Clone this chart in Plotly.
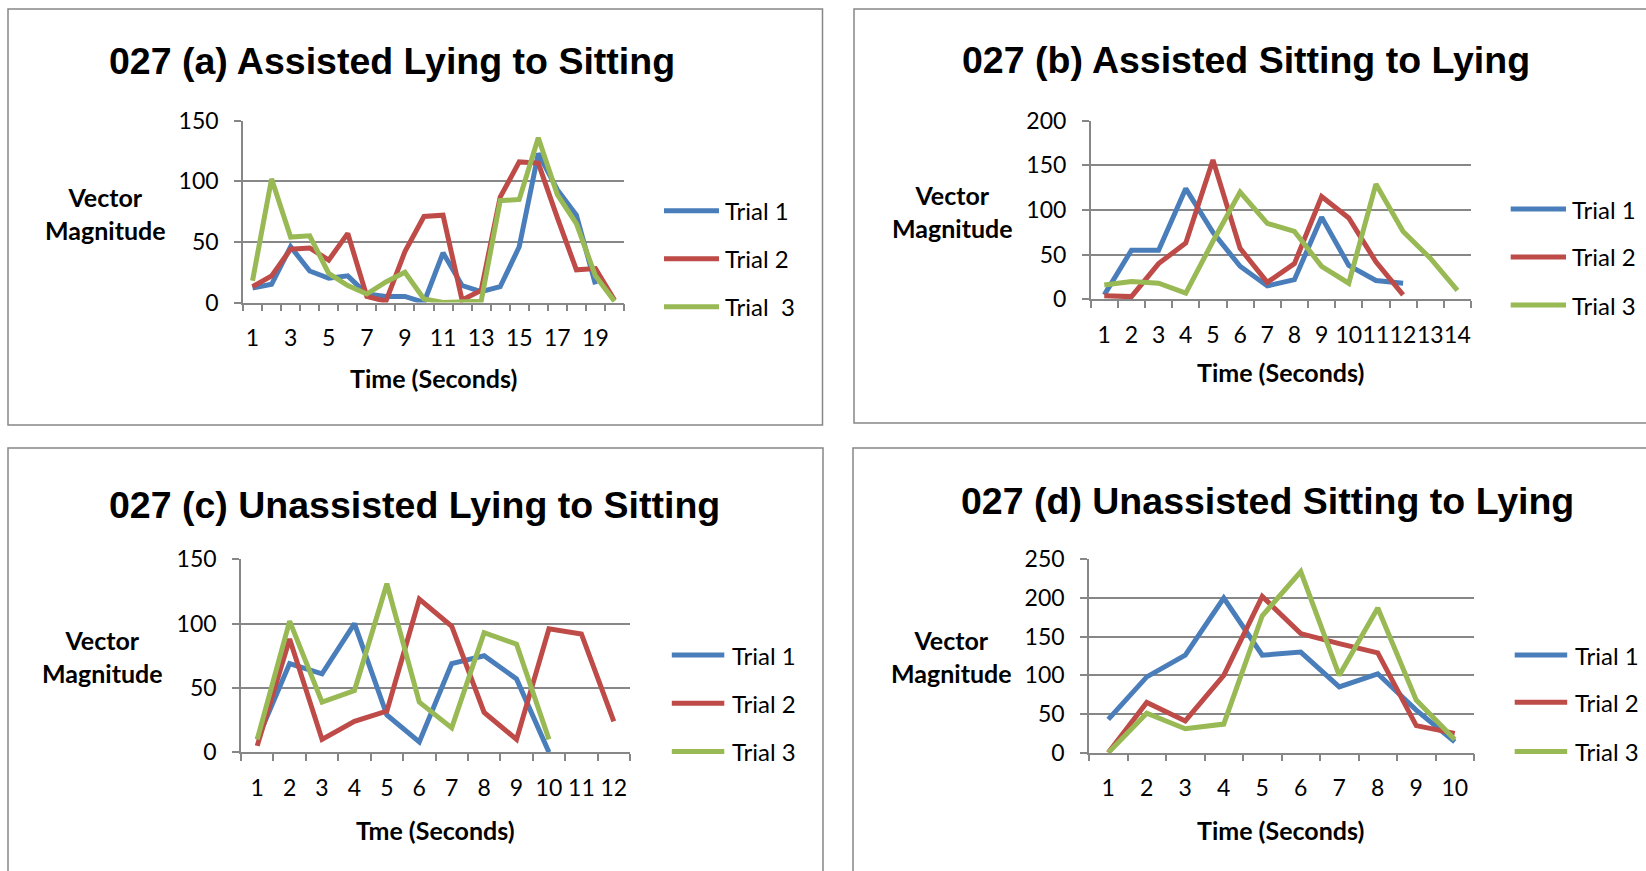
import plotly.graph_objects as go

W, H = 1646, 871

# ---------------- data ----------------
titles = ["027 (a) Assisted Lying to Sitting",
          "027 (b) Assisted Sitting to Lying",
          "027 (c) Unassisted Lying to Sitting",
          "027 (d) Unassisted Sitting to Lying"]
x_titles = ["Time (Seconds)", "Time (Seconds)", "Tme (Seconds)", "Time (Seconds)"]
y_title = "Vector<br>Magnitude"
legend_names_a = ["Trial 1", "Trial 2", "Trial\u00a0\u00a03"]
legend_names = ["Trial 1", "Trial 2", "Trial 3"]

time_a = list(range(1, 21))
a_trial1 = [12, 15, 46, 26, 20, 22, 7, 5, 5, 0, 41, 14, 9, 13, 46, 123, 93, 72, 15]
a_trial2 = [13, 22, 44, 45, 35, 57, 5, 1, 42, 71, 72, 2, 10, 87, 116, 115, 70, 27, 28, 2]
a_trial3 = [18, 102, 54, 55, 24, 14, 7, 17, 25, 3, 0, 0, 1, 84, 85, 136, 89, 65, 22, 1]
a_xticks = [1, 3, 5, 7, 9, 11, 13, 15, 17, 19]
a_yticks = [0, 50, 100, 150]

time_b = list(range(1, 15))
b_trial1 = [5, 55, 55, 124, 75, 37, 15, 22, 92, 38, 21, 18]
b_trial2 = [4, 3, 40, 63, 156, 57, 19, 40, 115, 91, 42, 5]
b_trial3 = [16, 20, 18, 7, 65, 120, 85, 76, 37, 18, 129, 76, 46, 10]
b_xticks = list(range(1, 15))
b_yticks = [0, 50, 100, 150, 200]

time_c = list(range(1, 13))
c_trial1 = [10, 69, 61, 100, 29, 8, 69, 75, 57, 0]
c_trial2 = [5, 88, 10, 24, 32, 119, 98, 31, 10, 96, 92, 24]
c_trial3 = [10, 102, 39, 48, 131, 39, 19, 93, 84, 10]
c_xticks = list(range(1, 13))
c_yticks = [0, 50, 100, 150]

time_d = list(range(1, 11))
d_trial1 = [43, 98, 126, 200, 126, 130, 85, 102, 55, 14]
d_trial2 = [0, 65, 41, 100, 202, 154, 141, 129, 35, 25]
d_trial3 = [0, 51, 31, 37, 177, 234, 100, 187, 68, 17]
d_xticks = list(range(1, 11))
d_yticks = [0, 50, 100, 150, 200, 250]

colors = ["#4A7EBB", "#BE4B48", "#98B954"]
GRAY = "#878787"

# ---------------- layout geometry (pixels) ----------------
charts = [
    dict(time=time_a, series=[a_trial1, a_trial2, a_trial3], xticks=a_xticks, yticks=a_yticks,
         plot=(243, 624, 120.7, 302.5), title_pos=(392, 61), ytitle_pos=(105.5, 213),
         xtitle_pos=(433.5, 378), leg_x=(664, 719, 723), leg_y=(210.7, 258.7, 306.7),
         names=legend_names_a, box=(8, 822.5, 9, 425)),
    dict(time=time_b, series=[b_trial1, b_trial2, b_trial3], xticks=b_xticks, yticks=b_yticks,
         plot=(1090.7, 1471, 120.7, 299.3), title_pos=(1245.5, 60), ytitle_pos=(952.6, 211.5),
         xtitle_pos=(1280, 372), leg_x=(1510.7, 1566, 1570), leg_y=(209, 257, 305),
         names=legend_names, box=(854, 1660, 9, 423)),
    dict(time=time_c, series=[c_trial1, c_trial2, c_trial3], xticks=c_xticks, yticks=c_yticks,
         plot=(241, 630, 559.3, 752.3), title_pos=(414, 505), ytitle_pos=(102.9, 656.6),
         xtitle_pos=(435.6, 829.5), leg_x=(671.8, 724.3, 729.6), leg_y=(655, 703.3, 751.6),
         names=legend_names, box=(8, 823, 448, 890)),
    dict(time=time_d, series=[d_trial1, d_trial2, d_trial3], xticks=d_xticks, yticks=d_yticks,
         plot=(1089, 1474, 559.3, 752.7), title_pos=(1267, 500.7), ytitle_pos=(951, 656.6),
         xtitle_pos=(1280.6, 829.5), leg_x=(1514.7, 1567.2, 1572.5), leg_y=(655, 702.3, 751.6),
         names=legend_names, box=(853, 1660, 448, 890)),
]


def px(x):
    return x / W


def py(y):
    return 1 - y / H


TICK_FONT = dict(family="Lato, 'Open Sans', sans-serif", size=23, color="black")
LEG_FONT = dict(family="Lato, 'Open Sans', sans-serif", size=24, color="black")
LABEL_FONT = dict(family="Lato, 'Open Sans', sans-serif", size=25, color="black")
TITLE_FONT = dict(family="'Liberation Sans', Arial, sans-serif", size=37.5, color="black")

fig = go.Figure()
shapes = []
annotations = []

for i, c in enumerate(charts):
    n = i + 1
    xa = "x" if n == 1 else f"x{n}"
    ya = "y" if n == 1 else f"y{n}"
    x0, x1, yt, yb = c["plot"]
    ncat = len(c["time"])
    ymax = c["yticks"][-1]

    for s, (vals, col) in enumerate(zip(c["series"], colors)):
        fig.add_trace(go.Scatter(
            x=c["time"][:len(vals)], y=vals, mode="lines",
            line=dict(color=col, width=5), xaxis=xa, yaxis=ya,
            showlegend=False, hoverinfo="skip"))

    fig.layout[f"xaxis{'' if n == 1 else n}"] = dict(
        domain=[px(x0), px(x1)], anchor=ya, range=[0.5, ncat + 0.5],
        automargin=False, tickangle=0,
        tickmode="array", tickvals=c["xticks"], ticktext=[str(v) for v in c["xticks"]],
        ticks="", showgrid=False, zeroline=False,
        showline=True, linecolor=GRAY, linewidth=1.5,
        tickfont=TICK_FONT, ticklabelstandoff=14,
        minor=dict(tickmode="array", tickvals=[k + 0.5 for k in range(0, ncat + 1)],
                   ticks="outside", ticklen=7, tickcolor=GRAY, tickwidth=1.5, showgrid=False),
        fixedrange=True)
    fig.layout[f"yaxis{'' if n == 1 else n}"] = dict(
        domain=[py(yb), py(yt)], anchor=xa, range=[0, ymax],
        automargin=False,
        tickmode="array", tickvals=c["yticks"], ticks="outside", ticklen=7,
        tickcolor=GRAY, tickwidth=1.5,
        showgrid=True, gridcolor=GRAY, gridwidth=1.5, zeroline=False,
        showline=True, linecolor=GRAY, linewidth=1.5,
        tickfont=TICK_FONT, ticklabelstandoff=11, fixedrange=True)

    # box
    bx0, bx1, by0, by1 = c["box"]
    shapes.append(dict(type="rect", xref="paper", yref="paper",
                       x0=px(bx0), x1=px(bx1), y0=py(by1), y1=py(by0),
                       line=dict(color=GRAY, width=1.5), layer="below"))
    # title
    annotations.append(dict(text=f"<b>{titles[i]}</b>", x=px(c["title_pos"][0]), y=py(c["title_pos"][1]),
                            xref="paper", yref="paper", showarrow=False,
                            xanchor="center", yanchor="middle", font=TITLE_FONT))
    annotations.append(dict(text=f"<b>{y_title}</b>", x=px(c["ytitle_pos"][0]), y=py(c["ytitle_pos"][1]),
                            xref="paper", yref="paper", showarrow=False,
                            xanchor="center", yanchor="middle", font=LABEL_FONT))
    annotations.append(dict(text=f"<b>{x_titles[i]}</b>", x=px(c["xtitle_pos"][0]), y=py(c["xtitle_pos"][1]),
                            xref="paper", yref="paper", showarrow=False,
                            xanchor="center", yanchor="middle", font=LABEL_FONT))
    # legend
    lx0, lx1, ltx = c["leg_x"]
    for s, (ly, col, name) in enumerate(zip(c["leg_y"], colors, c["names"])):
        shapes.append(dict(type="line", xref="paper", yref="paper",
                           x0=px(lx0), x1=px(lx1), y0=py(ly), y1=py(ly),
                           line=dict(color=col, width=5)))
        annotations.append(dict(text=name, x=px(ltx), y=py(ly), xref="paper", yref="paper",
                                showarrow=False, xanchor="left", yanchor="middle", font=LEG_FONT))

fig.update_layout(width=W, height=H, margin=dict(l=0, r=0, t=0, b=0, autoexpand=False),
                  paper_bgcolor="white", plot_bgcolor="white",
                  shapes=shapes, annotations=annotations, showlegend=False)

fig.write_html("out.html", config={"displayModeBar": False},
               post_script="document.body.style.margin='0px';document.body.style.overflow='hidden';")
